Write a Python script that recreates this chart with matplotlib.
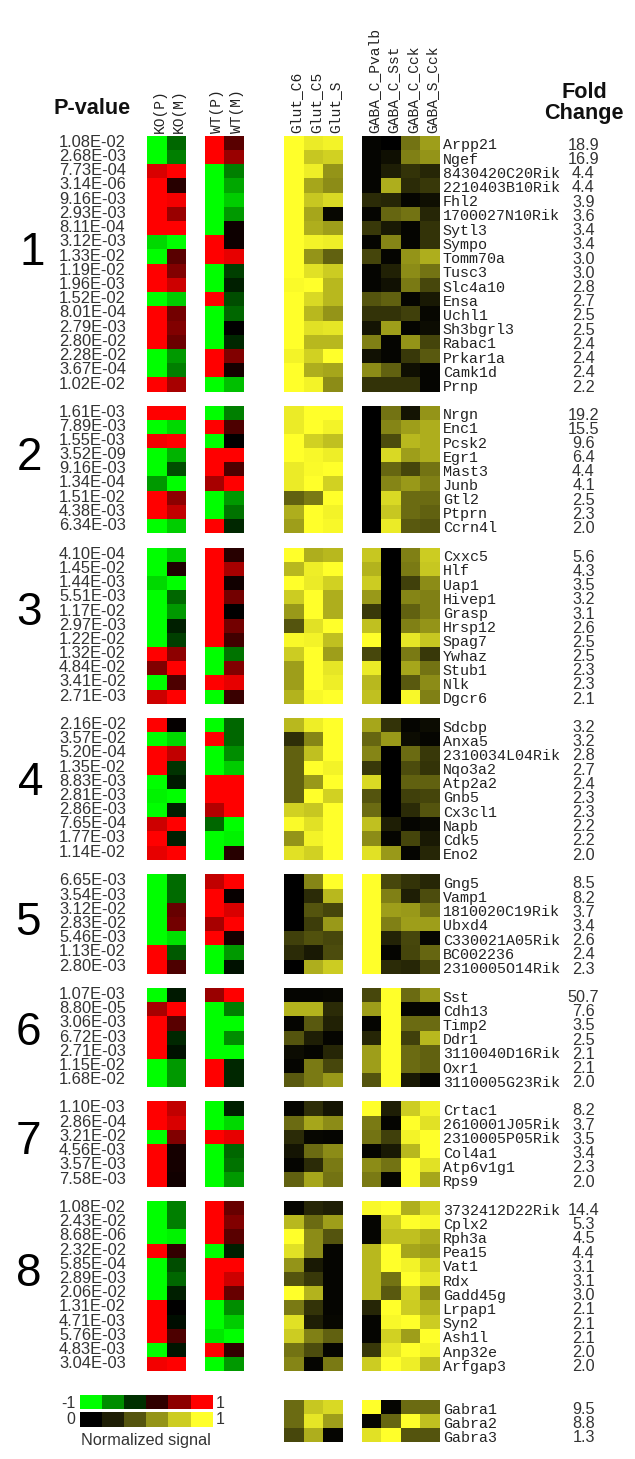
"""
Expression heatmap figure: KO/WT signal, cell type signal, gene names and fold change
"""
import matplotlib
matplotlib.use('Agg')
import matplotlib.pyplot as plt
from matplotlib.colors import LinearSegmentedColormap
import numpy as np

# data, one inner list per gene group (last group = Gabra rows, no KO/WT or p-value)
p_values = [
    ['1.08E-02', '2.68E-03', '7.73E-04', '3.14E-06', '9.16E-03', '2.93E-03', '8.11E-04', '3.12E-03', '1.33E-02',
     '1.19E-02', '1.96E-03', '1.52E-02', '8.01E-04', '2.79E-03', '2.80E-02', '2.28E-02', '3.67E-04', '1.02E-02'],
    ['1.61E-03', '7.89E-03', '1.55E-03', '3.52E-09', '9.16E-03', '1.34E-04', '1.51E-02', '4.38E-03', '6.34E-03'],
    ['4.10E-04', '1.45E-02', '1.44E-03', '5.51E-03', '1.17E-02', '2.97E-03', '1.22E-02', '1.32E-02', '4.84E-02',
     '3.41E-02', '2.71E-03'],
    ['2.16E-02', '3.57E-02', '5.20E-04', '1.35E-02', '8.83E-03', '2.81E-03', '2.86E-03', '7.65E-04', '1.77E-03',
     '1.14E-02'],
    ['6.65E-03', '3.54E-03', '3.12E-02', '2.83E-02', '5.46E-03', '1.13E-02', '2.80E-03'],
    ['1.07E-03', '8.80E-05', '3.06E-03', '6.72E-03', '2.71E-03', '1.15E-02', '1.68E-02'],
    ['1.10E-03', '2.86E-04', '3.21E-02', '4.56E-03', '3.57E-03', '7.58E-03'],
    ['1.08E-02', '2.43E-02', '8.68E-06', '2.32E-02', '5.85E-04', '2.89E-03', '2.06E-02', '1.31E-02', '4.71E-03',
     '5.76E-03', '4.83E-03', '3.04E-03'],
]

genes = [
    ['Arpp21', 'Ngef', '8430420C20Rik', '2210403B10Rik', 'Fhl2', '1700027N10Rik', 'Sytl3', 'Sympo', 'Tomm70a',
     'Tusc3', 'Slc4a10', 'Ensa', 'Uchl1', 'Sh3bgrl3', 'Rabac1', 'Prkar1a', 'Camk1d', 'Prnp'],
    ['Nrgn', 'Enc1', 'Pcsk2', 'Egr1', 'Mast3', 'Junb', 'Gtl2', 'Ptprn', 'Ccrn4l'],
    ['Cxxc5', 'Hlf', 'Uap1', 'Hivep1', 'Grasp', 'Hrsp12', 'Spag7', 'Ywhaz', 'Stub1', 'Nlk', 'Dgcr6'],
    ['Sdcbp', 'Anxa5', '2310034L04Rik', 'Nqo3a2', 'Atp2a2', 'Gnb5', 'Cx3cl1', 'Napb', 'Cdk5', 'Eno2'],
    ['Gng5', 'Vamp1', '1810020C19Rik', 'Ubxd4', 'C330021A05Rik', 'BC002236', '2310005O14Rik'],
    ['Sst', 'Cdh13', 'Timp2', 'Ddr1', '3110040D16Rik', 'Oxr1', '3110005G23Rik'],
    ['Crtac1', '2610001J05Rik', '2310005P05Rik', 'Col4a1', 'Atp6v1g1', 'Rps9'],
    ['3732412D22Rik', 'Cplx2', 'Rph3a', 'Pea15', 'Vat1', 'Rdx', 'Gadd45g', 'Lrpap1', 'Syn2', 'Ash1l', 'Anp32e',
     'Arfgap3'],
    ['Gabra1', 'Gabra2', 'Gabra3'],
]

fold_change = [
    [18.9, 16.9, 4.4, 4.4, 3.9, 3.6, 3.4, 3.4, 3.0, 3.0, 2.8, 2.7, 2.5, 2.5, 2.4, 2.4, 2.4, 2.2],
    [19.2, 15.5, 9.6, 6.4, 4.4, 4.1, 2.5, 2.3, 2.0],
    [5.6, 4.3, 3.5, 3.2, 3.1, 2.6, 2.5, 2.5, 2.3, 2.3, 2.1],
    [3.2, 3.2, 2.8, 2.7, 2.4, 2.3, 2.3, 2.2, 2.2, 2.0],
    [8.5, 8.2, 3.7, 3.4, 2.6, 2.4, 2.3],
    [50.7, 7.6, 3.5, 2.5, 2.1, 2.1, 2.0],
    [8.2, 3.7, 3.5, 3.4, 2.3, 2.0],
    [14.4, 5.3, 4.5, 4.4, 3.1, 3.1, 3.0, 2.1, 2.1, 2.1, 2.0, 2.0],
    [9.5, 8.8, 1.3],
]

# KO(P), KO(M), WT(P), WT(M): -1 green, 0 black, 1 red
ko_wt = [
    [[-1, -.4, 1, .35], [-1, -.5, 1, .6], [.85, 1, -1, -.5], [1, .15, -1, -.65], [1, .95, -1, -.8], [1, .6, -1, -.6],
     [1, 1, -1, .05], [-.85, -1, 1, .05], [-1, .35, 1, .9], [1, .5, -1, -.25], [1, .8, -1, -.12], [-1, -.8, 1, -.3],
     [1, .45, -1, -.4], [1, .5, -1, 0], [1, .42, -1, -.15], [-1, -.6, 1, .5], [-1, -.5, 1, .08], [1, .65, -1, -.75]],
    [[1, 1, -1, -.5], [-1, -.85, 1, .3], [.95, 1, -1, 0], [-1, -.7, 1, 1], [-1, -.3, 1, .3], [-.6, -1, .65, 1],
     [1, .55, -1, -.6], [1, .75, -1, -.45], [-1, -.8, 1, -.15]],
    [[-1, -.8, 1, .15], [-1, .12, 1, .65], [-.85, -1, 1, .07], [-1, -.4, 1, .45], [-1, -.6, 1, 0], [-1, -.12, 1, .45],
     [-1, -.25, 1, .25], [1, .55, -1, -.45], [.5, 1, -1, .5], [-1, .3, 1, .9], [.8, 1, -1, .22]],
    [[1, .02, -1, -.4], [-1, -.85, 1, -.4], [1, .75, -1, -.55], [1, -.2, -1, -.8], [-1, -.1, 1, 1], [-.95, -1, 1, 1],
     [-1, -.12, .7, 1], [.8, 1, -.4, -1], [1, -.12, -1, -.95], [.9, 1, -1, .15]],
    [[-1, -.42, .75, 1], [-1, -.42, 1, .03], [-1, .4, 1, .85], [-1, .45, .65, 1], [-1, -.88, 1, .08],
     [1, -.35, -1, -.6], [1, .3, -1, -.07]],
    [[-1, -.1, .6, 1], [.65, 1, -1, -.5], [1, .35, -1, -1], [1, -.15, -1, -.55], [1, -.07, -1, -1],
     [-1, -.6, 1, -.15], [-1, -.6, 1, -.15]],
    [[1, .75, -1, -.12], [1, .85, -1, -.85], [-1, .5, 1, .9], [1, .08, -1, -.4], [1, .08, -1, -.45],
     [1, .07, -1, -.6]],
    [[-1, -.5, 1, .4], [-1, -.5, 1, .5], [-1, -.95, 1, .35], [1, .2, -1, -.12], [-1, -.3, 1, 1], [-1, -.4, 1, .8],
     [-1, -.12, 1, .4], [1, 0, -1, -.55], [1, -.05, -1, -.8], [1, .3, -.9, -1], [-1, -.08, 1, .2],
     [.95, 1, -1, -.6]],
]

# Glut_C6, Glut_C5, Glut_S: 0 black, 1 yellow
glut = [
    [[1, .92, .95], [1, .78, .82], [1, .93, .58], [1, .65, .55], [1, .78, .85], [1, .65, .03], [1, .68, .62],
     [1, .95, .93], [1, .58, .38], [1, .88, .8], [.98, 1, .72], [1, .85, .72], [1, .72, .58], [1, .88, .9],
     [1, .72, .72], [.95, .82, 1], [1, .68, .65], [1, .95, .55]],
    [[.92, 1, 1], [.92, 1, .95], [1, .82, .75], [1, .97, .93], [.92, .98, 1], [.92, 1, .82], [.38, .48, 1],
     [.68, 1, .95], [.62, 1, .97]],
    [[1, .68, .72], [.72, .93, 1], [1, .92, .82], [.8, 1, .68], [.6, 1, .68], [.33, .88, 1], [.97, .95, .75],
     [.8, 1, .62], [.62, 1, .9], [.62, 1, .93], [.7, .97, 1]],
    [[.72, .93, 1], [.18, .52, 1], [.38, .75, 1], [.38, 1, .95], [.38, .6, 1], [.38, 1, .82], [.82, .78, 1],
     [.98, .88, 1], [.58, .95, 1], [.88, .82, 1]],
    [[0, .52, 1], [0, .17, .72], [0, .33, .27], [0, .24, .6], [.25, .32, .28], [.17, .1, .3], [0, .68, .8]],
    [[.02, .02, .03], [.7, .7, .17], [.02, .35, .13], [.33, .12, .02], [.05, .02, .15], [.02, .48, .28],
     [.35, .48, .6]],
    [[.02, .18, .08], [.42, .65, .55], [.17, .03, .02], [.08, .42, .55], [.02, .17, .48], [.38, .65, .45]],
    [[.02, .15, .12], [.72, .42, .62], [1, .55, .33], [.88, .55, .02], [.58, .1, .02], [.33, .22, .02],
     [1, .7, .02], [.48, .2, .02], [.88, .12, .03], [.8, .5, .38], [.45, .3, .02], [.52, .02, .48]],
    [[.42, .78, .85], [.42, .9, .62], [.28, .68, .02]],
]

# GABA_C_Pvalb, GABA_C_Sst, GABA_C_Cck, GABA_S_Cck
gaba = [
    [[.02, 0, .45, .62], [.02, .06, .5, .58], [.02, .12, .2, .15], [.02, .68, .17, .22], [.17, .15, .02, .06],
     [.02, .4, .45, .15], [.22, .1, .02, .2], [.02, .52, .02, .2], [.27, .02, .58, .68], [.02, .13, .55, .45],
     [.02, .07, .48, .28], [.33, .38, .02, .1], [.2, .2, .25, .03], [.08, .62, .02, .05], [.5, .02, .58, .27],
     [.07, .02, .22, .35], [.55, .38, .06, .02], [.2, .2, .2, .02]],
    [[0, .45, .08, .58], [0, .52, .62, .68], [0, .3, .72, .68], [0, .85, .62, .68], [0, .4, .27, .45],
     [0, .52, .6, .5], [0, .85, .42, .42], [0, .78, .42, .38], [0, .92, .35, .33]],
    [[.78, 0, .5, .8], [.7, 0, .48, .78], [.8, 0, .25, .55], [.6, 0, .52, .5], [.22, 0, .38, .5], [.75, 0, .5, .58],
     [1, 0, .9, .78], [.28, 0, .48, .22], [.92, 0, .65, .45], [.72, 0, .35, .55], [.75, 0, .97, .5]],
    [[.65, .2, .02, .05], [.4, .6, .05, .02], [.52, 0, .42, .22], [.22, 0, .3, .2], [.85, 0, .38, .38],
     [.33, 0, .25, .27], [.42, 0, .17, .33], [.75, .12, .02, .04], [.55, .02, .27, .1], [.88, .6, .02, .15]],
    [[1, .28, .2, .15], [1, .5, .12, .3], [1, .62, .6, .45], [1, .5, .62, .62], [1, .14, .28, .02],
     [1, .02, .27, .4], [1, .17, .15, .28]],
    [[.28, 1, .42, .6], [.62, 1, .02, .02], [.02, 1, .42, .42], [.15, 1, .25, .72], [.62, 1, .42, .38],
     [.62, 1, .42, .38], [.33, 1, .1, .02]],
    [[1, .12, .8, .95], [.48, .02, 1, .88], [.45, .25, .95, 1], [.02, .1, .72, 1], [.55, .45, 1, .88],
     [.48, .02, 1, .65]],
    [[.97, 1, .68, .85], [.02, .8, 1, .97], [.02, .75, .75, .68], [.72, 1, .65, .62], [.72, 1, .95, .82],
     [.72, .45, 1, .9], [.72, .35, .82, .55], [.15, 1, .8, .7], [.02, .97, 1, .8], [.02, .82, .62, 1],
     [.22, .9, 1, .95], [.8, 1, .93, .75]],
    [[1, .02, .42, .42], [.02, .4, 1, .75], [.88, 1, .33, .33]],
]

group_names = ['1', '2', '3', '4', '5', '6', '7', '8']
ko_wt_labels = ['KO(P)', 'KO(M)', 'WT(P)', 'WT(M)']
glut_labels = ['Glut_C6', 'Glut_C5', 'Glut_S']
gaba_labels = ['GABA_C_Pvalb', 'GABA_C_Sst', 'GABA_C_Cck', 'GABA_S_Cck']
legend_rg = [-1, -.55, -.18, .18, .55, 1]
legend_yellow = [0, .12, .33, .58, .8, 1]

# layout in image pixels
BLOCK_TOP = [135.7, 405.7, 547.7, 718.0, 874.3, 988.0, 1101.3, 1201.0, 1400.3]
BLOCK_BOTTOM = [391.7, 533.0, 703.7, 859.7, 973.7, 1087.3, 1186.7, 1371.3, 1442.3]
GROUP_XY = [(32, 253), (29, 458), (29, 613), (31, 783), (28, 923), (28, 1033), (28, 1142), (29, 1274)]
KO_X = (147.3, 185.7)
WT_X = (205.0, 243.7)
GLUT_X = (284.0, 342.7)
GABA_X = (361.7, 440.0)
TEXT_GREY = '#333333'
SANS = 'Liberation Sans'
MONO = 'Liberation Mono'

rg_cmap = LinearSegmentedColormap.from_list('rg', ['#00FF00', '#000000', '#FF0000'])
yellow_cmap = LinearSegmentedColormap.from_list('yellow', ['#000000', '#FFFF2A'])

fig = plt.figure(figsize=(6.35, 14.59), dpi=100)
ax = fig.add_axes([0, 0, 1, 1])
ax.set_xlim(0, 635)
ax.set_ylim(1459, 0)
ax.axis('off')


def draw_block(x_range, top, bottom, values, cmap, vmin):
    """画一个热图小块"""
    values = np.atleast_2d(values)
    xs = np.linspace(x_range[0], x_range[1], values.shape[1] + 1)
    ys = np.linspace(top, bottom, values.shape[0] + 1)
    ax.pcolormesh(xs, ys, values, cmap=cmap, vmin=vmin, vmax=1, rasterized=True)


def column_labels(x_range, labels):
    xs = np.linspace(x_range[0], x_range[1], len(labels) + 1)
    for i, label in enumerate(labels):
        ax.text((xs[i] + xs[i + 1]) / 2 + 2.5, 133, label, rotation=90, ha='center', va='bottom',
                family=MONO, fontsize=10.5, color='#222222')


for i in range(len(genes)):
    top, bottom = BLOCK_TOP[i], BLOCK_BOTTOM[i]
    row_h = (bottom - top) / len(genes[i])

    draw_block(GLUT_X, top, bottom, glut[i], yellow_cmap, 0)
    draw_block(GABA_X, top, bottom, gaba[i], yellow_cmap, 0)

    if i < len(ko_wt):
        rows = np.array(ko_wt[i])
        draw_block(KO_X, top, bottom, rows[:, :2], rg_cmap, -1)
        draw_block(WT_X, top, bottom, rows[:, 2:], rg_cmap, -1)
        for j, p in enumerate(p_values[i]):
            ax.text(92.5, top + row_h * (j + 0.5) - 0.5, p, ha='center', va='center',
                    family=SANS, fontsize=11.9, color=TEXT_GREY)
        ax.text(GROUP_XY[i][0], GROUP_XY[i][1], group_names[i], ha='center', va='center',
                family=SANS, fontsize=33, color='black')

    for j, gene in enumerate(genes[i]):
        ax.text(442.7, top + row_h * (j + 0.5) + 2.5, gene, ha='left', va='center',
                family=MONO, fontsize=10.8, color='#222222')
    for j, fold in enumerate(fold_change[i]):
        ax.text(583.5, top + row_h * (j + 0.5) + 2.5, f'{fold:.1f}', ha='center', va='center',
                family=SANS, fontsize=11.7, color=TEXT_GREY)

# 列标题
column_labels(KO_X, ko_wt_labels[:2])
column_labels(WT_X, ko_wt_labels[2:])
column_labels(GLUT_X, glut_labels)
column_labels(GABA_X, gaba_labels)

ax.text(92.5, 109, 'P-value', ha='center', va='center', family=SANS, fontsize=15.6, fontweight='bold', color='#111111')
ax.text(584, 93, 'Fold', ha='center', va='center', family=SANS, fontsize=15.6, fontweight='bold', color='#111111')
ax.text(584, 113, 'Change', ha='center', va='center', family=SANS, fontsize=15.6, fontweight='bold', color='#111111')

# 图例
draw_block((80, 212.7), 1395, 1409, [legend_rg], rg_cmap, -1)
draw_block((80, 212.7), 1412, 1427, [legend_yellow], yellow_cmap, 0)
ax.text(75, 1403, '-1', ha='right', va='center', family=SANS, fontsize=11.5, color=TEXT_GREY)
ax.text(75, 1420, '0', ha='right', va='center', family=SANS, fontsize=11.5, color=TEXT_GREY)
ax.text(216, 1403, '1', ha='left', va='center', family=SANS, fontsize=11.5, color=TEXT_GREY)
ax.text(216, 1420, '1', ha='left', va='center', family=SANS, fontsize=11.5, color=TEXT_GREY)
ax.text(146, 1440, 'Normalized signal', ha='center', va='center', family=SANS, fontsize=11.7, color=TEXT_GREY)

fig.savefig('out.png', dpi=100)
